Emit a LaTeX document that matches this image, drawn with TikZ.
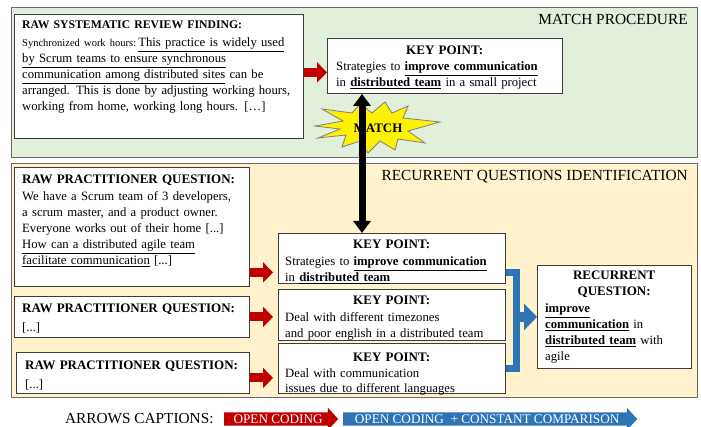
\documentclass[tikz,border=0pt]{standalone}
\usepackage{fontspec}
\setmainfont{Liberation Serif}
\usetikzlibrary{arrows.meta,shapes.arrows}

\definecolor{matchbg}{RGB}{226,239,218}
\definecolor{recurbg}{RGB}{255,242,204}
\definecolor{panelline}{RGB}{105,105,105}
\definecolor{boxline}{RGB}{60,60,60}
\definecolor{codered}{RGB}{192,0,0}
\definecolor{compblue}{RGB}{46,117,182}

\newcommand{\bodyfont}{\fontsize{12.7}{16}\selectfont}
\newcommand{\hd}[1]{{\fontsize{13}{16}\selectfont\bfseries #1}}
\newcommand{\ul}[1]{\underline{#1}}
\newcommand{\kw}[1]{\underline{\textbf{#1}}}
\newcommand{\centred}[1]{\hfill#1\hfill\null}

\begin{document}
\begin{tikzpicture}
[x=1pt,y=-1pt,
  panelDecorate/.style={draw=panelline,line width=1pt,anchor=north west,inner sep=0pt},%
  boxDecorate/.style={draw=boxline,line width=0.9pt,fill=white,anchor=north west,inner sep=0pt},%
  textDecorate/.style={anchor=base west,inner sep=0pt,align=left,font=\bodyfont},%
  labelDecorate/.style={anchor=base east,inner sep=0pt,font=\fontsize{15.4}{15.4}\selectfont},%
  codeArrow/.style={draw=codered,line width=9pt,-{Triangle[length=10pt,width=20pt]}},%
  compArrow/.style={draw=compblue,line width=7pt},%
  matchArrow/.style={line width=7pt,{Triangle[length=12pt,width=17pt]}-{Triangle[length=12pt,width=17pt]}},%
  captionArrow/.style={single arrow,single arrow head extend=4.5pt,single arrow tip angle=95,
    anchor=tail,text=white,inner ysep=2pt,text height=9pt,text depth=0pt,font=\fontsize{13.2}{13.2}\selectfont}]
\useasboundingbox (0,0) rectangle (701,427);

%% panels
\node (matchpanel) at (11,7) [panelDecorate,fill=matchbg,minimum width=686pt,minimum height=150pt] {};
\node (recurpanel) at (11,163) [panelDecorate,fill=recurbg,minimum width=686pt,minimum height=234pt] {};
\node (matchlabel) at (688,25) [labelDecorate] {MATCH PROCEDURE};
\node (recurlabel) at (688,181) [labelDecorate] {RECURRENT QUESTIONS IDENTIFICATION};

%% boxes
\foreach \name/\x/\y/\w/\h in {
  srf/14/14/289/124, kp1/327/38/235/55, rpq1/14/167/235/119, rpq2/14/296/235/41,
  rpq3/16/352/233/41, kp2/278/233/227/50, kp3/278/289/227/51, kp4/278/343/227/50,
  rq/537/265/154/103}
{
  \node (\name) at (\x,\y) [boxDecorate,minimum width=\w pt,minimum height=\h pt] {};
}

%% box texts
\node (srf-t) at (22,29) [textDecorate,text width=281pt] {{\fontsize{11.7}{16}\selectfont\bfseries RAW SYSTEMATIC REVIEW FINDING:}\\[2pt]
  {\fontsize{10.5}{16}\selectfont Synchronized work hours:}\,\ul{This practice is widely used}\\
  \ul{by Scrum teams to ensure synchronous}\\
  \ul{communication among distributed sites} can be\\
  arranged. This is done by adjusting working hours,\\
  working from home, working long hours. […]};
\node (kp1-t) at (336,55) [textDecorate,text width=217pt] {\centred{\hd{KEY POINT:}}\\
  Strategies to \kw{improve communication}\\
  in \kw{distributed team} in a small project};
\node (rpq1-t) at (22,184) [textDecorate,text width=221pt] {\hd{RAW PRACTITIONER QUESTION:}\\[1pt]
  We have a Scrum team of 3 developers,\\
  a scrum master, and a product owner.\\
  Everyone works out of their home [...]\\
  \ul{How can a distributed agile team}\\
  \ul{facilitate communication} [...]};
\node (rpq2-t) at (22,313) [textDecorate,text width=221pt] {\hd{RAW PRACTITIONER QUESTION:}\\[3pt] [...]};
\node (rpq3-t) at (25,369) [textDecorate,text width=218pt] {\hd{RAW PRACTITIONER QUESTION:}\\[3pt] [...]};
\node (kp2-t) at (285,249) [textDecorate,text width=213pt] {\centred{\hd{KEY POINT:}}\\[1pt]
  Strategies to \kw{improve communication}\\
  in \kw{distributed team}};
\node (kp3-t) at (285,305) [textDecorate,text width=213pt] {\centred{\hd{KEY POINT:}}\\[1pt]
  Deal with different timezones\\
  and poor english in a distributed team};
\node (kp4-t) at (285,361) [textDecorate,text width=213pt] {\centred{\hd{KEY POINT:}}\\
  Deal with communication\\
  issues due to different languages};
\node (rq-t) at (545,280) [textDecorate,text width=138pt] {\centred{\hd{RECURRENT}}\\
  \centred{\hd{QUESTION:}}\\[1pt]
  \kw{improve}\\
  \kw{communication} in\\
  \kw{distributed team} with\\
  agile};

%% open coding arrows
\coordinate (srfout) at ([yshift=4pt]srf.east);
\coordinate (kp2in) at ([yshift=-14pt]kp2.west);
\coordinate (rpq3out) at ([yshift=-5pt]rpq3.east);
\draw[codeArrow] (srfout) -- (srfout -| kp1.west);
\draw[codeArrow,shorten >=5pt] (kp2in -| rpq1.east) -- (kp2in);
\draw[codeArrow,shorten >=5pt] (rpq2.east) -- (rpq2.east -| kp3.west);
\draw[codeArrow,shorten >=5pt] (rpq3out) -- (rpq3out -| kp4.west);

%% match
\coordinate (matchx) at (362,0);
\filldraw[fill=yellow,draw=gray,line width=0.8pt] (315,126) -- (343,121) -- (322,109) -- (352,113)
  -- (360,104) -- (372,113) -- (385,102) -- (392,113) -- (408,106) -- (403,118) -- (440,122)
  -- (408,131) -- (425,143) -- (398,139) -- (395,150) -- (380,141) -- (368,153) -- (360,141)
  -- (342,147) -- (346,135) -- (318,138) -- (340,129) -- cycle;
\draw[matchArrow] (kp1.south -| matchx) -- (kp2.north -| matchx);
\node (matchtag) at (378,128) [font=\fontsize{13}{13}\selectfont\bfseries] {MATCH};

%% constant comparison
\coordinate (joinx) at (516,0);
\coordinate (kp2out) at ([yshift=-14pt]kp2.east);
\draw[compArrow] (kp2out) -| (joinx |- kp4.east) -- (kp4.east);
\draw[compArrow,line width=10pt,-{Triangle[length=13pt,width=26pt]}] (joinx |- rq.west) -- (rq.west);

%% captions
\node (captitle) at (65,423) [anchor=base west,inner sep=0pt,font=\fontsize{15.3}{15.3}\selectfont] {ARROWS CAPTIONS:};
\node (opencode) at (224,419) [captionArrow,fill=codered,minimum height=114pt] {OPEN CODING};
\node (constcomp) at (343,419) [captionArrow,fill=compblue,minimum height=294pt] {OPEN CODING \ +\ CONSTANT COMPARISON};
\end{tikzpicture}
\end{document}
